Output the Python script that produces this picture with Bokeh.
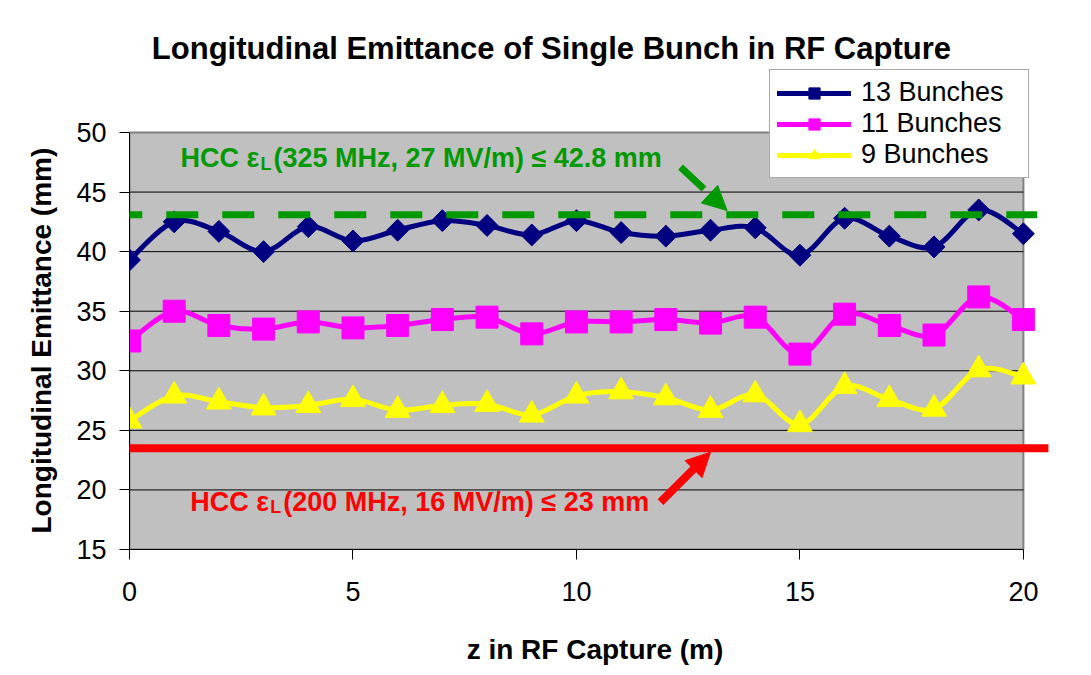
import math
from bokeh.plotting import figure
from bokeh.models import (Range1d, Label, Arrow, NormalHead, Legend, LegendItem, FixedTicker,
                          Title)
from bokeh.embed import file_html
from bokeh.resources import INLINE

# ---- data ----
z_m = list(range(21))
bunch13 = [39.3, 42.5, 41.7, 40.0, 42.1, 40.9, 41.8, 42.6, 42.2, 41.4, 42.6,
           41.6, 41.3, 41.8, 42.0, 39.7, 42.8, 41.3, 40.4, 43.5, 41.5]
bunch11 = [32.5, 35.0, 33.8, 33.5, 34.1, 33.6, 33.8, 34.3, 34.5, 33.1, 34.1,
           34.1, 34.3, 34.0, 34.5, 31.4, 34.75, 33.8, 33.0, 36.2, 34.3]
bunch9 = [25.8, 27.9, 27.4, 26.9, 27.1, 27.6, 26.7, 27.1, 27.2, 26.3, 27.9,
          28.25, 27.75, 26.7, 28.0, 25.5, 28.7, 27.6, 26.8, 30.1, 29.5]
series_names = ["13 Bunches", "11 Bunches", "9 Bunches"]
hcc325_level = 43.1
hcc200_level = 23.5
x_ticks = [0, 5, 10, 15, 20]
y_ticks = [15, 20, 25, 30, 35, 40, 45, 50]

FONT = "Liberation Sans"
GREEN = "#009A00"
RED = "#FF0000"

x0, x1 = x_ticks[0], x_ticks[-1]
y0, y1 = y_ticks[0], y_ticks[-1]

# frame extends above / right of the grey plot area so that the title, legend
# and the level lines can overhang it as in the original
p = figure(width=1075, height=667, output_backend="svg", toolbar_location=None,
           x_range=Range1d(x0, 20.83), y_range=Range1d(y0, 59.4),
           min_border_left=129, min_border_right=15, min_border_top=20, min_border_bottom=118)
p.background_fill_color = "white"
p.border_fill_color = "white"
p.outline_line_color = None
p.xgrid.grid_line_color = None
p.ygrid.grid_line_color = None

# grey plot area and grid
p.quad(left=[x0], right=[x1], bottom=[y0], top=[y1], fill_color="#C0C0C0",
       line_color="#808080", line_width=2, level="image")
grid_y = y_ticks[1:-1]
p.segment(x0=[x0] * len(grid_y), x1=[x1] * len(grid_y), y0=grid_y, y1=grid_y,
          line_color="black", line_width=1, level="underlay")

for ax in (p.xaxis[0], p.yaxis[0]):
    ax.axis_line_color = "black"
    ax.axis_line_width = 1
    ax.major_tick_line_color = "black"
    ax.major_tick_in = 0
    ax.major_tick_out = 10
    ax.minor_tick_line_color = None
    ax.major_label_text_font = FONT
    ax.major_label_text_font_size = "27px"
    ax.major_label_text_color = "black"
    ax.axis_label_text_font = FONT
    ax.axis_label_text_font_style = "bold"
    ax.axis_label_text_color = "black"

p.xaxis.axis_label_text_font_size = "28px"
p.xaxis.ticker = FixedTicker(ticks=x_ticks)
p.yaxis.ticker = FixedTicker(ticks=y_ticks)
p.xaxis.bounds = (x0, x1)
p.yaxis.bounds = (y0, y1)
p.xaxis.axis_label = "z in RF Capture (m)"
p.xaxis.major_label_standoff = 22
p.yaxis.major_label_standoff = 13
p.xaxis.axis_label_standoff = 30

# y axis title, positioned along the grey plot area rather than the whole frame
p.add_layout(Title(text="Longitudinal Emittance (mm)", align="left", offset=16, standoff=33,
                   text_font=FONT, text_font_size="28px", text_font_style="bold",
                   text_color="black"), "left")


def smooth_segments(xs, ys):
    n = len(xs)
    out = dict(x0=[], y0=[], x1=[], y1=[], cx0=[], cy0=[], cx1=[], cy1=[])
    for i in range(n - 1):
        xm, ym = (xs[i - 1], ys[i - 1]) if i > 0 else (xs[i], ys[i])
        xp, yp = (xs[i + 2], ys[i + 2]) if i + 2 < n else (xs[i + 1], ys[i + 1])
        out["x0"].append(xs[i]); out["y0"].append(ys[i])
        out["x1"].append(xs[i + 1]); out["y1"].append(ys[i + 1])
        out["cx0"].append(xs[i] + (xs[i + 1] - xm) / 6.0)
        out["cy0"].append(ys[i] + (ys[i + 1] - ym) / 6.0)
        out["cx1"].append(xs[i + 1] - (xp - xs[i]) / 6.0)
        out["cy1"].append(ys[i + 1] - (yp - ys[i]) / 6.0)
    return out


styles = [
    (bunch13, "#000080", dict(marker="square", size=15.5, angle=math.pi / 4)),
    (bunch11, "#FF00FF", dict(marker="square", size=22)),
    (bunch9, "#FFFF00", dict(marker="triangle", size=25)),
]
items = []
for name, (vals, color, mk) in zip(series_names, styles):
    seg = smooth_segments(z_m, vals)
    r_line = p.bezier(line_color=color, line_width=5, line_cap="round", **seg)
    r_pts = p.scatter(z_m, vals, fill_color=color, line_color=color, line_width=1, **mk)
    items.append(LegendItem(label=name, renderers=[r_line, r_pts]))

# reference levels (they overhang the plot area, as in the original)
p.add_layout(Arrow(end=None, x_start=-0.43, y_start=hcc325_level, x_end=20.31, y_end=hcc325_level,
                   line_color=GREEN, line_width=7, line_dash="32 24"))
p.add_layout(Arrow(end=None, x_start=-0.94, y_start=hcc200_level, x_end=20.56, y_end=hcc200_level,
                   line_color=RED, line_width=8))

# annotation arrows
p.add_layout(Arrow(end=NormalHead(size=24, fill_color=GREEN, line_color=GREEN),
                   x_start=12.33, y_start=47.09, x_end=13.37, y_end=43.45,
                   line_color=GREEN, line_width=7, line_dash="32 24"))
p.add_layout(Arrow(end=NormalHead(size=24, fill_color=RED, line_color=RED),
                   x_start=11.88, y_start=18.97, x_end=13.0, y_end=23.17,
                   line_color=RED, line_width=8))


def add_text(x, y, text, color, size, style="bold", align="left"):
    p.add_layout(Label(x=x, y=y, text=text, text_color=color, text_font=FONT,
                       text_font_size=size, text_font_style=style,
                       text_align=align, text_baseline="alphabetic"))


add_text(1.14, 47.86, "HCC ε", GREEN, "27px")
add_text(2.93, 47.36, "L", GREEN, "18px")
add_text(3.22, 47.86, "(325 MHz, 27 MV/m) ≤ 42.8 mm", GREEN, "27px")
add_text(1.36, 18.99, "HCC ε", RED, "27px")
add_text(3.15, 18.57, "L", RED, "18px")
add_text(3.44, 18.99, "(200 MHz, 16 MV/m) ≤ 23 mm", RED, "27px")

# chart title
add_text(9.44, 57.05, "Longitudinal Emittance of Single Bunch in RF Capture", "black", "31px",
         align="center")

legend = Legend(items=items, location=(640, 371), orientation="vertical",
                label_text_font=FONT, label_text_font_size="27px", label_text_color="black",
                glyph_width=74, glyph_height=28, label_height=28, label_standoff=10,
                label_width=160, padding=7, spacing=0, margin=0,
                border_line_color="#555555", border_line_width=1.5,
                background_fill_color="white", background_fill_alpha=1.0)
p.add_layout(legend)

open("out.html", "w").write(file_html(p, INLINE))
